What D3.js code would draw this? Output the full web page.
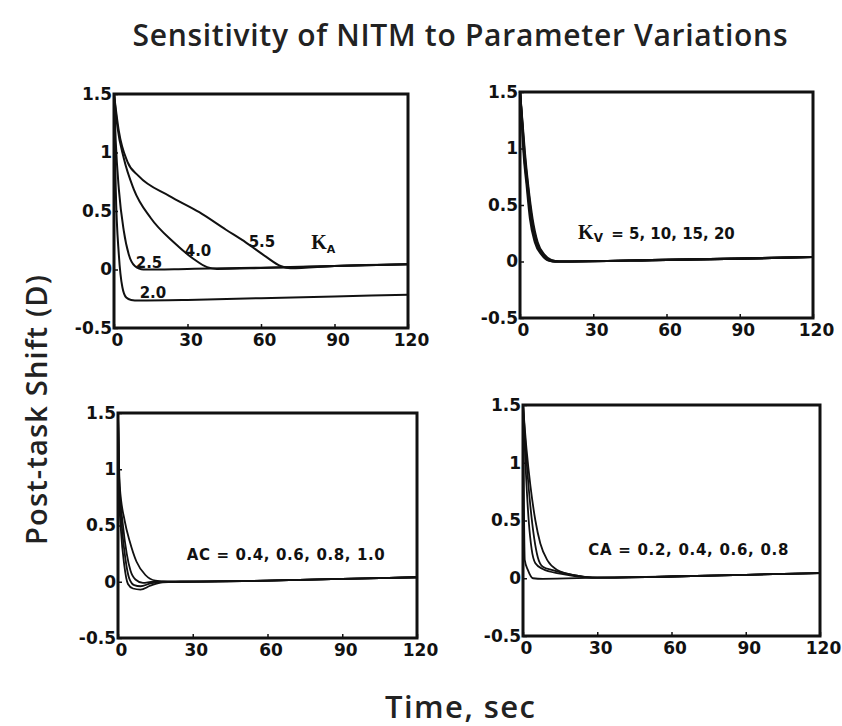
<!DOCTYPE html>
<html>
    <head>
        <title>Sensitivity of NITM</title>
        <script src="https://d3js.org/d3.v7.min.js"></script>
        <style>
            body { margin: 0; background: #fff; }
            .tick text { font-family: 'DejaVu Sans', sans-serif; font-weight: bold; font-size: 17px; fill: #111; }
            .tick line { stroke: #111; stroke-width: 1.5; }
            .note { font-family: 'DejaVu Sans', sans-serif; font-weight: bold; font-size: 15px; fill: #111; }
            .big { font-family: 'Open Sans', 'Noto Sans', sans-serif; font-weight: 600; fill: #222; }
        </style>
    </head>
    <body>
        <script type = 'text/javascript'>
            var w = 842;
            var h = 726;

            // tick values shared by all four panels
            var timeTicks = [0, 30, 60, 90, 120];
            var shiftTicks = [-0.5, 0, 0.5, 1, 1.5];
            var shiftTickLabels = ['-0.5', '0', '0.5', '1', '1.5'];

            // K_A panel, [time, shift]
            var ka20 = [[0,1.5],[0.7,0.7],[2,0.12],[3.4,-0.15],[5,-0.24],[7,-0.26],[10,-0.265],[30,-0.26],[60,-0.245],[90,-0.23],[120,-0.215]];
            var ka25 = [[0,1.5],[0.7,1.1],[2,0.68],[4,0.33],[6,0.13],[8.5,0.03],[12,0],[30,0.005],[60,0.015],[90,0.03],[120,0.045]];
            var ka40 = [[0,1.5],[1.4,1.22],[4,0.95],[8,0.69],[15,0.44],[24.5,0.23],[32.5,0.09],[38,0.02],[42,0.005],[60,0.012],[90,0.03],[120,0.045]];
            var ka55 = [[0,1.5],[2,1.18],[5.5,0.92],[10,0.8],[22.5,0.63],[34.8,0.49],[45.7,0.34],[53.9,0.23],[62,0.11],[68,0.03],[72,0.01],[90,0.03],[120,0.045]];

            // K_V panel
            var kv5  = [[0,1.5],[0.7,1.27],[1.4,0.98],[2.7,0.68],[4.1,0.38],[6.1,0.17],[8.9,0.06],[11.6,0.01],[15,0],[60,0.015],[90,0.025],[120,0.04]];
            var kv10 = [[0,1.5],[0.8,1.25],[1.6,0.98],[3,0.67],[4.5,0.38],[6.5,0.17],[9.3,0.06],[12,0.01],[15,0],[60,0.015],[90,0.025],[120,0.04]];
            var kv15 = [[0,1.5],[0.9,1.24],[1.8,0.97],[3.2,0.67],[4.8,0.38],[6.9,0.17],[9.7,0.06],[12.5,0.01],[16,0],[60,0.015],[90,0.025],[120,0.04]];
            var kv20 = [[0,1.5],[1,1.23],[2,0.96],[3.4,0.66],[5.1,0.38],[7.2,0.17],[10,0.06],[13,0.01],[16,0],[60,0.015],[90,0.025],[120,0.04]];

            // AC panel
            var ac04 = [[0,1.5],[0.7,0.85],[2.7,0.54],[4.7,0.36],[7.4,0.18],[11,0.06],[15,0.01],[20,0],[60,0.01],[90,0.025],[120,0.04]];
            var ac06 = [[0,1.5],[0.5,0.9],[2,0.5],[3.5,0.25],[5,0.1],[7,0.02],[10,-0.01],[14,0],[20,0],[60,0.01],[90,0.025],[120,0.04]];
            var ac08 = [[0,1.5],[0.5,0.85],[1.5,0.5],[3,0.2],[4.5,0.03],[6.5,-0.03],[9,-0.04],[13,-0.015],[18,0],[60,0.01],[90,0.025],[120,0.04]];
            var ac10 = [[0,1.5],[0.4,0.8],[1.2,0.45],[2.5,0.15],[4,-0.02],[6,-0.06],[9,-0.07],[13,-0.035],[18,-0.005],[25,0],[60,0.01],[90,0.025],[120,0.04]];

            // CA panel
            var ca02 = [[0,1.5],[0.3,0.8],[0.7,0.16],[2,0.07],[4,0],[8,-0.005],[30,0.005],[60,0.015],[90,0.03],[120,0.045]];
            var ca04 = [[0,1.5],[1.2,0.9],[2.3,0.5],[3.5,0.25],[5,0.13],[8,0.08],[15,0.04],[25,0.01],[30,0.005],[60,0.015],[90,0.03],[120,0.045]];
            var ca06 = [[0,1.5],[1.5,1.0],[3,0.62],[4.5,0.35],[6,0.18],[8,0.1],[12,0.07],[20,0.03],[30,0.005],[60,0.015],[90,0.03],[120,0.045]];
            var ca08 = [[0,1.5],[1.5,1.1],[3,0.8],[5,0.5],[7,0.3],[10,0.15],[14,0.07],[20,0.03],[30,0.005],[60,0.015],[90,0.03],[120,0.045]];

            // in-plot labels, [text, time, shift] of anchor
            var kaLabels = [['2.0', 15.9, -0.2], ['2.5', 14.3, 0.06], ['4.0', 34.3, 0.16], ['5.5', 60.4, 0.235]];

            var panels = [
                { box: [114, 94, 408, 328], curves: [ka20, ka25, ka40, ka55], width: 2 },
                { box: [520, 92, 813, 318], curves: [kv5, kv10, kv15, kv20], width: 2.2 },
                { box: [118, 413, 417, 638], curves: [ac04, ac06, ac08, ac10], width: 1.8 },
                { box: [523, 405, 820, 636], curves: [ca02, ca04, ca06, ca08], width: 1.8 }
            ];

            var svg = d3.select('body')
                        .append('svg')
                        .attr('width', w)
                        .attr('height', h);

            panels.forEach(function(p) {
                p.x = d3.scaleLinear().domain([0, 120]).range([p.box[0], p.box[2]]);
                p.y = d3.scaleLinear().domain([-0.5, 1.5]).range([p.box[3], p.box[1]]);

                var line = d3.line()
                            .x(function(d) { return p.x(d[0]); })
                            .y(function(d) { return p.y(d[1]); })
                            .curve(d3.curveMonotoneX);

                svg.append('g')
                    .selectAll('path')
                    .data(p.curves)
                    .enter()
                    .append('path')
                    .attr('d', line)
                    .attr('fill', 'none')
                    .attr('stroke', '#111')
                    .attr('stroke-width', p.width);

                var xAxis = d3.axisBottom(p.x)
                                .tickValues(timeTicks)
                                .tickSizeInner(-4)
                                .tickSizeOuter(0)
                                .tickPadding(6);

                var yAxis = d3.axisLeft(p.y)
                                .tickValues(shiftTicks)
                                .tickFormat(function(d, i) { return shiftTickLabels[i]; })
                                .tickSizeInner(-4)
                                .tickSizeOuter(0)
                                .tickPadding(2);

                var gx = svg.append('g')
                    .attr('transform', 'translate(0,' + p.box[3] + ')')
                    .call(xAxis);
                gx.select('.domain').remove();
                // the scan puts the labels a little right of their ticks
                gx.selectAll('.tick text').attr('x', 3);

                var gy = svg.append('g')
                    .attr('transform', 'translate(' + p.box[0] + ',0)')
                    .call(yAxis);
                gy.select('.domain').remove();

                svg.append('rect')
                    .attr('x', p.box[0])
                    .attr('y', p.box[1])
                    .attr('width', p.box[2] - p.box[0])
                    .attr('height', p.box[3] - p.box[1])
                    .attr('fill', 'none')
                    .attr('stroke', '#111')
                    .attr('stroke-width', 3);
            });

            // K_A panel labels
            var p1 = panels[0];
            svg.selectAll('.ka')
                .data(kaLabels)
                .enter()
                .append('text')
                .attr('class', 'note')
                .attr('x', function(d) { return p1.x(d[1]); })
                .attr('y', function(d) { return p1.y(d[2]); })
                .attr('text-anchor', 'middle')
                .attr('dy', '0.35em')
                .text(function(d) { return d[0]; });

            var ka = svg.append('text')
                .attr('x', p1.x(80.5))
                .attr('y', p1.y(0.235))
                .attr('dy', '0.35em')
                .style('font-family', "'Liberation Serif', serif")
                .style('font-weight', 'bold')
                .style('font-size', '20px')
                .attr('fill', '#111');
            ka.append('tspan').text('K');
            ka.append('tspan').attr('dy', 4).style('font-family', "'DejaVu Sans', sans-serif").style('font-size', '11px').text('A');

            // parameter notes of the other panels
            var p2 = panels[1];
            var kv = svg.append('text')
                .attr('class', 'note')
                .attr('x', p2.x(23.8))
                .attr('y', p2.y(0.25))
                .attr('dy', '0.35em');
            kv.append('tspan').style('font-family', "'Liberation Serif', serif").style('font-size', '20px').text('K');
            kv.append('tspan').attr('dy', 3).style('font-size', '12px').text('V');
            kv.append('tspan').attr('dy', -3).attr('dx', 3).text(' = 5, 10, 15, 20');

            svg.append('text')
                .attr('class', 'note')
                .attr('x', panels[2].x(27.6))
                .attr('y', panels[2].y(0.24))
                .attr('dy', '0.35em')
                .attr('textLength', 198)
                .text('AC = 0.4, 0.6, 0.8, 1.0');

            svg.append('text')
                .attr('class', 'note')
                .attr('x', panels[3].x(26.4))
                .attr('y', panels[3].y(0.25))
                .attr('dy', '0.35em')
                .attr('textLength', 200)
                .text('CA = 0.2, 0.4, 0.6, 0.8');

            // titles
            svg.append('text')
                .attr('class', 'big')
                .attr('x', 460)
                .attr('y', 46)
                .attr('text-anchor', 'middle')
                .style('font-size', '30px')
                .attr('textLength', 655)
                .text('Sensitivity of NITM to Parameter Variations');

            svg.append('text')
                .attr('class', 'big')
                .attr('transform', 'translate(47,410) rotate(-90)')
                .attr('text-anchor', 'middle')
                .style('font-size', '29px')
                .attr('textLength', 270)
                .text('Post-task Shift (D)');

            svg.append('text')
                .attr('class', 'big')
                .attr('x', 460)
                .attr('y', 718)
                .attr('text-anchor', 'middle')
                .style('font-size', '31px')
                .attr('textLength', 150)
                .text('Time, sec');
        </script>
    </body>
</html>
